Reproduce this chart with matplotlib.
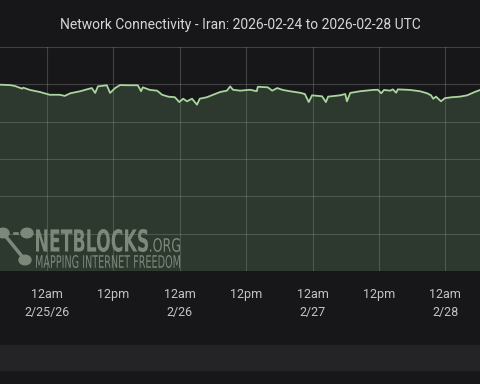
import matplotlib
matplotlib.use("Agg")
import matplotlib.pyplot as plt
from matplotlib.patches import Rectangle, Circle, PathPatch
from matplotlib.lines import Line2D
from matplotlib.textpath import TextPath
from matplotlib.font_manager import FontProperties
from matplotlib.transforms import Affine2D, IdentityTransform
import pandas as pd

# hours since 2026-02-24 15:30 UTC, connectivity (% of normal)
hours = [0.0, 1.8, 2.7, 4.0, 4.2, 5.4, 7.2, 9.0, 10.8, 11.7, 12.7, 14.5, 15.7,
         16.6, 17.2, 17.7, 19.3, 19.9, 20.8, 21.7, 23.5, 24.9, 25.5, 25.8,
         27.1, 28.4, 29.3, 30.4, 31.6, 32.4, 33.1, 33.8, 34.7, 35.6, 36.1,
         37.4, 38.5, 39.8, 41.0, 41.6, 42.1, 43.4, 45.2, 46.4, 46.6, 48.4,
         49.2, 50.1, 51.1, 52.4, 54.2, 55.1, 55.8, 56.4, 58.2, 58.9, 59.3,
         61.4, 62.4, 62.7, 63.3, 65.1, 67.4, 68.3, 68.9, 69.4, 70.5, 71.0,
         71.6, 71.9, 74.1, 75.9, 77.2, 77.9, 78.3, 78.8, 79.7, 80.4, 81.7,
         83.1, 84.4, 85.8, 86.8]
values = [99.8, 99.6, 99.1, 97.7, 98.2, 97.0, 95.9, 94.4, 94.4, 93.8, 95.2,
          96.3, 97.3, 98.0, 95.4, 98.9, 99.5, 95.4, 98.0, 99.6, 99.5, 99.5,
          96.3, 98.4, 97.0, 96.6, 94.4, 93.4, 93.1, 90.5, 92.3, 90.9, 92.3,
          89.1, 92.3, 93.1, 94.4, 95.9, 96.6, 98.9, 97.1, 96.6, 97.1, 96.3,
          98.7, 98.4, 96.6, 98.0, 97.0, 96.3, 95.5, 94.8, 90.5, 94.1, 93.6,
          90.5, 93.4, 94.1, 94.8, 90.9, 95.4, 96.3, 97.0, 97.1, 95.2, 97.0,
          96.6, 97.3, 95.5, 97.3, 97.0, 96.3, 95.2, 94.1, 92.3, 93.4, 90.9,
          92.6, 93.1, 93.4, 94.1, 95.9, 97.0]

tick_times = ["2026-02-25 00:00", "2026-02-25 12:00", "2026-02-26 00:00",
              "2026-02-26 12:00", "2026-02-27 00:00", "2026-02-27 12:00",
              "2026-02-28 00:00"]
tick_labels = ["12am\n2/25/26", "12pm", "12am\n2/26", "12pm",
               "12am\n2/27", "12pm", "12am\n2/28"]

title = "Network Connectivity - Iran: 2026-02-24 to 2026-02-28 UTC"

start = pd.Timestamp("2026-02-24 15:30")
times = start + pd.to_timedelta(hours, unit="h")

W, H = 480, 384
bg = "#17171a"
fig = plt.figure(figsize=(W / 100, H / 100), dpi=100, facecolor=bg)
ax = fig.add_axes([0, 1 - 271 / H, 1, 224 / H])
ax.set_facecolor(bg)

ax.fill_between(times, values, 0, color="#2d382e", lw=0, zorder=1)
ax.plot(times, values, color="#a8d69c", lw=1.3, zorder=3)

ax.set_xlim(start, start + pd.Timedelta(hours=86.75))
ax.set_ylim(0, 120)
ax.set_yticks(range(0, 121, 20))
ax.set_yticklabels([])
ax.set_xticks(pd.to_datetime(tick_times))
ax.set_xticklabels(tick_labels, color="#c4c4c4", fontsize=9,
                   family="Roboto", linespacing=1.5)
ax.tick_params(axis="x", length=0, pad=12)
ax.tick_params(axis="y", length=0)
ax.grid(True, color="#8f958f", alpha=0.35, lw=0.8, zorder=2)
for s in ax.spines.values():
    s.set_visible(False)

fig.text(0.5, 1 - 25 / H, title, ha="center", va="center",
         color="#d6d6d6", fontsize=10, family="Roboto")

# footer band
fig.patches.append(Rectangle((0, 1 - 370 / H), 1, 25 / H,
                             transform=fig.transFigure, color="#242427",
                             zorder=0))

# watermark
wm = "#7c887a"


def box_text(s, x0, x1, ytop, ybot, weight="normal"):
    # text squeezed into a pixel box (image coords, y down)
    tp = TextPath((0, 0), s, size=10,
                  prop=FontProperties(family="DejaVu Sans", weight=weight))
    e = tp.get_extents()
    tr = (Affine2D().translate(-e.x0, -e.y0)
          .scale((x1 - x0) / e.width, (ybot - ytop) / e.height)
          .translate(x0, H - ybot))
    fig.patches.append(PathPatch(tr.transform_path(tp), fc=wm, lw=0,
                                 transform=IdentityTransform(), zorder=6))


for cx, cy in [(3, 233), (27, 233), (25, 260)]:
    fig.patches.append(Circle((cx / W, 1 - cy / H), 0.0125,
                              transform=fig.transFigure, color=wm,
                              zorder=5))
fig.lines.append(Line2D([3 / W, 27 / W], [1 - 233 / H, 1 - 233 / H],
                        transform=fig.transFigure, color=wm, lw=2,
                        ls=(0, (2, 1.5)), zorder=5))
fig.lines.append(Line2D([3 / W, 25 / W], [1 - 233 / H, 1 - 260 / H],
                        transform=fig.transFigure, color=wm, lw=2.5,
                        zorder=5))
box_text("NETBLOCKS", 36, 148, 229, 252, weight="bold")
box_text(".ORG", 150, 180, 238, 252)
box_text("MAPPING INTERNET FREEDOM", 36, 180, 255, 268)

fig.savefig("out.png", dpi=100, facecolor=bg)
